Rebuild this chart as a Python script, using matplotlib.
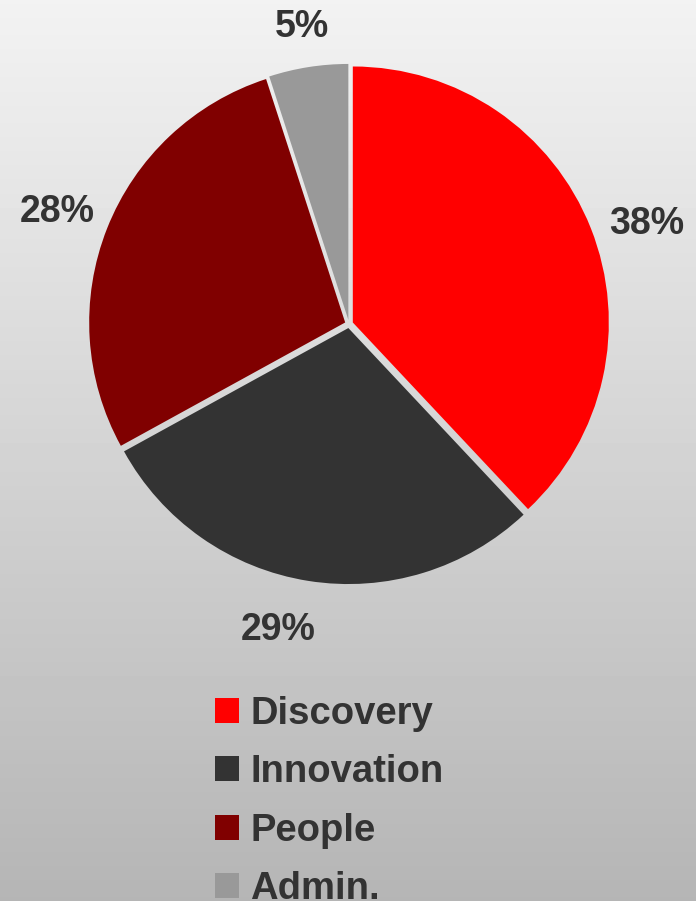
"""Budget split pie chart on a grey gradient background."""
import matplotlib
matplotlib.use("Agg")
import matplotlib.pyplot as plt
import numpy as np

categories = ["Discovery", "Innovation", "People", "Admin."]
shares = [38, 29, 28, 5]
colors = ["#ff0000", "#333333", "#800000", "#999999"]

TEXT = "#333333"
FONT = "Liberation Sans"
# label placement (radius in pie units, angle nudge in degrees)
LABEL_R = [1.21, 1.21, 1.205, 1.16]
LABEL_DA = [-3, -4, 0.6, 0]

W, H = 696, 901
fig = plt.figure(figsize=(W / 100, H / 100), dpi=100)

# background gradient (light at top, darker grey at bottom)
bg = fig.add_axes([0, 0, 1, 1], zorder=0)
grad = np.linspace(0.95, 0.71, 256).reshape(-1, 1)
bg.imshow(grad, cmap="gray", vmin=0, vmax=1, aspect="auto",
          extent=[0, 1, 0, 1], origin="upper")
bg.axis("off")

# pie axes: centre (349, 324) px, radius 256 px
cx, cy, R = 349, 324, 256
L = 1.25
S = 2 * L * R
ax = fig.add_axes([(cx - S / 2) / W, (H - cy - S / 2) / H, S / W, S / H], zorder=1)
ax.set_xlim(-L, L)
ax.set_ylim(-L, L)
ax.set_aspect("equal")
ax.axis("off")

EXPLODE = 0.016
wedges, texts, autotexts = ax.pie(
    shares, colors=colors, startangle=90, counterclock=False,
    explode=[EXPLODE] * len(shares), radius=1.0,
    autopct=lambda p: f"{p:.0f}%", pctdistance=1.2,
    textprops=dict(fontsize=27, fontweight="bold", color=TEXT, family=FONT),
)
for w, t, r, da in zip(wedges, autotexts, LABEL_R, LABEL_DA):
    ang = np.deg2rad((w.theta1 + w.theta2) / 2 + da)
    rr = r + EXPLODE
    t.set_position((rr * np.cos(ang), rr * np.sin(ang)))
    t.set_clip_on(False)

fs = 27.5
leg = fig.legend(
    wedges, categories, loc="upper left",
    bbox_to_anchor=(215 / W, 1 - 696 / H),
    frameon=False,
    prop=dict(size=fs, weight="bold", family=FONT),
    handlelength=0.63, handleheight=0.63, handletextpad=0.29,
    labelspacing=0.585, borderpad=0, borderaxespad=0,
)
for t in leg.get_texts():
    t.set_color(TEXT)

fig.savefig("out.png", dpi=100)
